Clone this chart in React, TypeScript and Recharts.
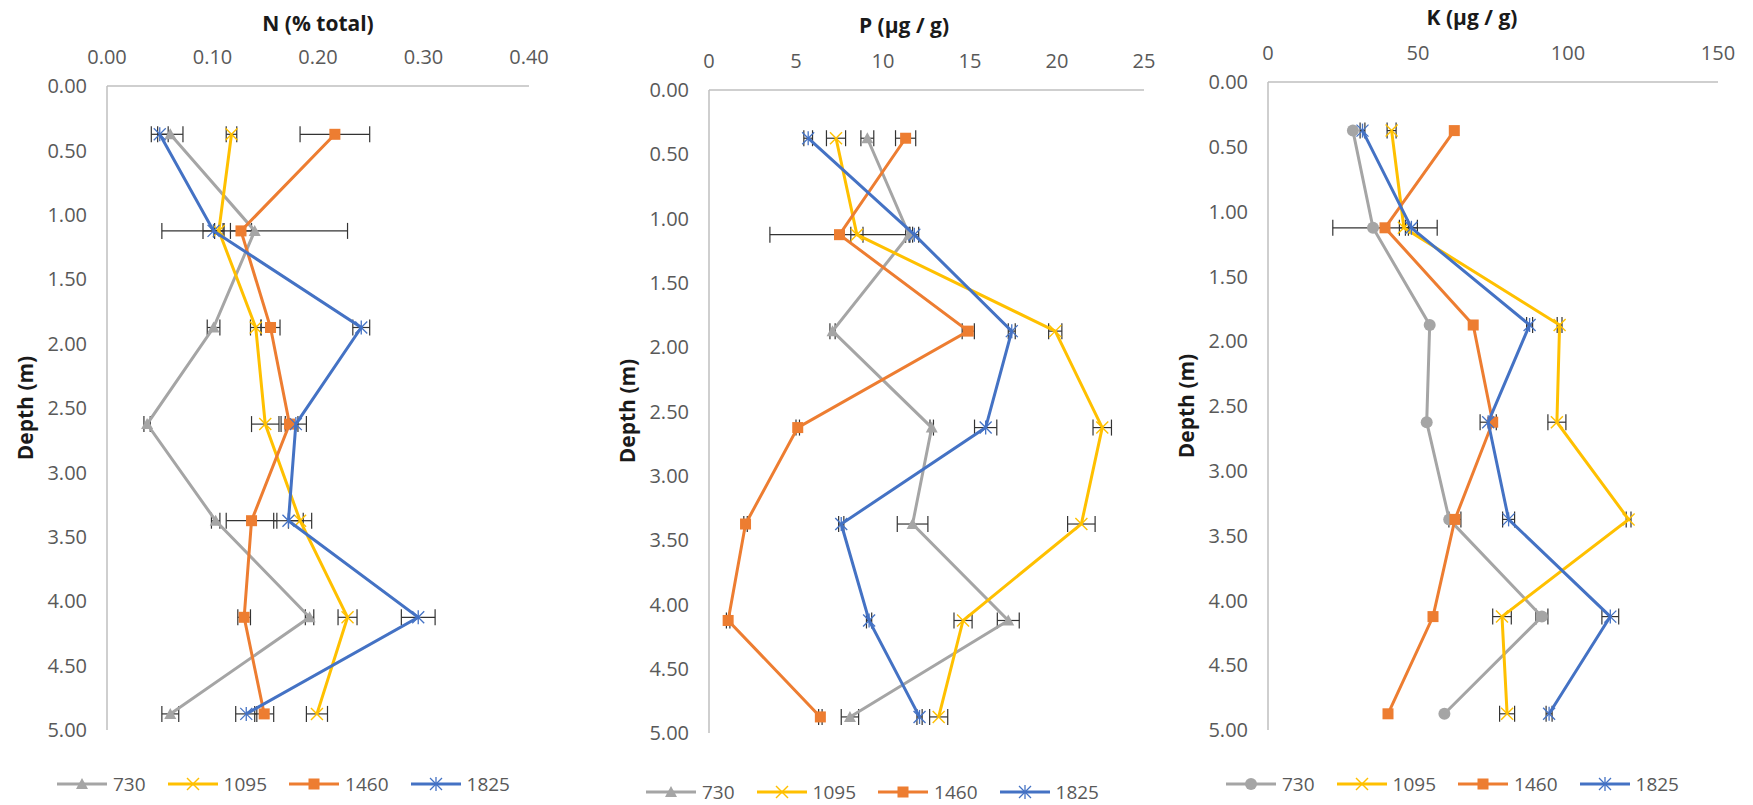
import React from 'react';
import { ScatterChart, Scatter, XAxis, YAxis, ErrorBar, Label } from 'recharts';

// ---------- data ----------
const depths = [0.375, 1.125, 1.875, 2.625, 3.375, 4.125, 4.875];
const depthTicks = [0, 0.5, 1, 1.5, 2, 2.5, 3, 3.5, 4, 4.5, 5];
const seriesNames = ['730', '1095', '1460', '1825'];
const seriesColors = ['#A5A5A5', '#FFC000', '#ED7D31', '#4472C4'];

const nTicks = [0, 0.1, 0.2, 0.3, 0.4];
const n730 = [0.060, 0.140, 0.101, 0.038, 0.103, 0.192, 0.060];
const n1095 = [0.118, 0.106, 0.141, 0.150, 0.183, 0.228, 0.199];
const n1460 = [0.216, 0.127, 0.155, 0.173, 0.137, 0.130, 0.149];
const n1825 = [0.050, 0.101, 0.241, 0.179, 0.172, 0.295, 0.132];
const nErr730 = [0.012, 0.088, 0.006, 0.003, 0.004, 0.004, 0.008];
const nErr1095 = [0.005, 0.004, 0.005, 0.013, 0.011, 0.009, 0.010];
const nErr1460 = [0.033, 0.010, 0.009, 0.008, 0.024, 0.006, 0.009];
const nErr1825 = [0.008, 0.010, 0.008, 0.010, 0.014, 0.016, 0.010];

const pTicks = [0, 5, 10, 15, 20, 25];
const p730 = [9.1, 11.5, 7.1, 12.8, 11.7, 17.2, 8.1];
const p1095 = [7.3, 8.5, 19.9, 22.6, 21.4, 14.6, 13.2];
const p1460 = [11.3, 7.5, 14.9, 5.1, 2.1, 1.1, 6.4];
const p1825 = [5.7, 11.8, 17.4, 15.9, 7.6, 9.2, 12.1];
const pErr730 = [0.37, 0.2, 0.15, 0.1, 0.88, 0.63, 0.5];
const pErr1095 = [0.55, 0.35, 0.38, 0.53, 0.79, 0.52, 0.52];
const pErr1460 = [0.58, 4.0, 0.35, 0.1, 0.1, 0.1, 0.1];
const pErr1825 = [0.25, 0.25, 0.2, 0.64, 0.15, 0.15, 0.15];

const kTicks = [0, 50, 100, 150];
const k730 = [28.3, 35.0, 53.9, 52.9, 60.4, 91.3, 58.8];
const k1095 = [41.2, 45.3, 97.2, 96.3, 120.2, 78.0, 79.7];
const k1460 = [62.1, 39.0, 68.4, 74.9, 62.3, 55.0, 40.0];
const k1825 = [31.5, 47.8, 87.2, 73.4, 80.2, 114.1, 93.7];
const kErr730 = [0, 0, 0, 0, 0, 2.0, 0];
const kErr1095 = [1.5, 1.5, 0.8, 3.0, 0.8, 3.1, 2.5];
const kErr1460 = [0, 17.4, 0, 0, 2.0, 0, 0];
const kErr1825 = [0.8, 2.0, 1.0, 2.7, 2.0, 2.8, 1.0];

const nTitle = 'N (% total)';
const pTitle = 'P (µg / g)';
const kTitle = 'K (µg / g)';
const depthTitle = 'Depth (m)';

// ---------- helpers ----------
type Kind = 'triangle' | 'circle' | 'square' | 'x' | 'asterisk';

const FONT = "'Open Sans', 'Liberation Sans', sans-serif";
const TICK_COLOR = '#595959';

function Marker({ kind, cx, cy, color }: { kind: Kind; cx: number; cy: number; color: string }) {
  if (cx == null || cy == null) return null;
  switch (kind) {
    case 'triangle':
      return <polygon points={`${cx},${cy - 6} ${cx - 6},${cy + 5} ${cx + 6},${cy + 5}`} fill={color} />;
    case 'circle':
      return <circle cx={cx} cy={cy} r={6} fill={color} />;
    case 'square':
      return <rect x={cx - 5.5} y={cy - 5.5} width={11} height={11} fill={color} />;
    case 'x':
      return (
        <g stroke={color} strokeWidth={1.4}>
          <line x1={cx - 6} y1={cy - 6} x2={cx + 6} y2={cy + 6} />
          <line x1={cx - 6} y1={cy + 6} x2={cx + 6} y2={cy - 6} />
        </g>
      );
    case 'asterisk':
      return (
        <g stroke={color} strokeWidth={1.3}>
          <line x1={cx - 6} y1={cy - 6} x2={cx + 6} y2={cy + 6} />
          <line x1={cx - 6} y1={cy + 6} x2={cx + 6} y2={cy - 6} />
          <line x1={cx} y1={cy - 7} x2={cx} y2={cy + 7} />
        </g>
      );
    default:
      return null;
  }
}

function buildRows(values: number[], errs: number[]) {
  return values.map((v, i) => ({ x: v, y: depths[i], ex: errs[i] }));
}

type PanelCfg = {
  key: string;
  left: number;
  width: number;
  height: number;
  margin: { top: number; right: number; bottom: number; left: number };
  ticks: number[];
  domain: [number, number];
  fmt: (v: number) => string;
  series: { values: number[]; errs: number[] }[];
  kinds: Kind[];
  title: string;
  titleX: number;
  titleY: number;
  depthX: number;
  depthY: number;
  legendLeft: number;
  legendY: number;
};

const panels: PanelCfg[] = [
  {
    key: 'N', left: 0, width: 570, height: 745,
    margin: { top: 56, right: 41, bottom: 15, left: 37 },
    ticks: nTicks, domain: [0, 0.4], fmt: (v) => v.toFixed(2),
    series: [
      { values: n730, errs: nErr730 }, { values: n1095, errs: nErr1095 },
      { values: n1460, errs: nErr1460 }, { values: n1825, errs: nErr1825 },
    ],
    kinds: ['triangle', 'x', 'square', 'asterisk'],
    title: nTitle, titleX: 318, titleY: 23, depthX: 25, depthY: 408,
    legendLeft: 57, legendY: 784,
  },
  {
    key: 'P', left: 580, width: 590, height: 748,
    margin: { top: 60, right: 26, bottom: 15, left: 59 },
    ticks: pTicks, domain: [0, 25], fmt: (v) => String(v),
    series: [
      { values: p730, errs: pErr730 }, { values: p1095, errs: pErr1095 },
      { values: p1460, errs: pErr1460 }, { values: p1825, errs: pErr1825 },
    ],
    kinds: ['triangle', 'x', 'square', 'asterisk'],
    title: pTitle, titleX: 324, titleY: 25, depthX: 47, depthY: 411,
    legendLeft: 646, legendY: 792,
  },
  {
    key: 'K', left: 1160, width: 593, height: 745,
    margin: { top: 52, right: 35, bottom: 15, left: 38 },
    ticks: kTicks, domain: [0, 150], fmt: (v) => String(v),
    series: [
      { values: k730, errs: kErr730 }, { values: k1095, errs: kErr1095 },
      { values: k1460, errs: kErr1460 }, { values: k1825, errs: kErr1825 },
    ],
    kinds: ['circle', 'x', 'square', 'asterisk'],
    title: kTitle, titleX: 312, titleY: 17, depthX: 26, depthY: 406,
    legendLeft: 1226, legendY: 784,
  },
];

function PanelLegend({ cfg }: { cfg: PanelCfg }) {
  return (
    <div
      style={{
        position: 'absolute', left: cfg.legendLeft, top: cfg.legendY - 10, height: 20,
        display: 'flex', alignItems: 'center', fontFamily: FONT, fontSize: 19, color: TICK_COLOR,
        whiteSpace: 'nowrap',
      }}
    >
      {seriesNames.map((name, i) => (
        <div key={name} style={{ display: 'flex', alignItems: 'center', marginRight: 22, height: 20 }}>
          <svg width={50} height={20} style={{ display: 'block' }}>
            <line x1={0} y1={10} x2={50} y2={10} stroke={seriesColors[i]} strokeWidth={3} />
            <Marker kind={cfg.kinds[i]} cx={25} cy={10} color={seriesColors[i]} />
          </svg>
          <span style={{ marginLeft: 6, lineHeight: '20px' }}>{name}</span>
        </div>
      ))}
    </div>
  );
}

function Panel({ cfg }: { cfg: PanelCfg }) {
  return (
    <div style={{ position: 'absolute', left: cfg.left, top: 0 }}>
      <ScatterChart width={cfg.width} height={cfg.height} margin={cfg.margin}>
        <XAxis
          type="number"
          dataKey="x"
          orientation="top"
          domain={cfg.domain}
          ticks={cfg.ticks}
          tickFormatter={cfg.fmt}
          height={30}
          tickLine={false}
          tickSize={0}
          tickMargin={22}
          axisLine={{ stroke: '#bfbfbf', strokeWidth: 1.5 }}
          tick={{ fill: TICK_COLOR, fontSize: 20, fontFamily: FONT }}
          allowDataOverflow
        >
          <Label
            content={() => (
              <text
                x={cfg.titleX}
                y={cfg.titleY}
                dy="0.36em"
                textAnchor="middle"
                fontFamily={FONT}
                fontSize={21}
                fontWeight="bold"
                fill="#1a1a1a"
              >
                {cfg.title}
              </text>
            )}
          />
        </XAxis>
        <YAxis
          type="number"
          dataKey="y"
          reversed
          domain={[0, 5]}
          ticks={depthTicks}
          tickFormatter={(v: number) => v.toFixed(2)}
          width={70}
          tickLine={false}
          tickSize={0}
          tickMargin={20}
          axisLine={{ stroke: '#bfbfbf', strokeWidth: 1.5 }}
          tick={{ fill: TICK_COLOR, fontSize: 20, fontFamily: FONT }}
          allowDataOverflow
        >
          <Label
            content={() => (
              <text
                x={cfg.depthX}
                y={cfg.depthY}
                dy="0.36em"
                textAnchor="middle"
                transform={`rotate(-90 ${cfg.depthX} ${cfg.depthY})`}
                fontFamily={FONT}
                fontSize={21}
                fontWeight="bold"
                fill="#1a1a1a"
              >
                {depthTitle}
              </text>
            )}
          />
        </YAxis>
        {cfg.series.map((s, i) => (
          <Scatter
            key={seriesNames[i]}
            name={seriesNames[i]}
            data={buildRows(s.values, s.errs)}
            fill={seriesColors[i]}
            line={{ stroke: seriesColors[i], strokeWidth: 3 }}
            lineType="joint"
            isAnimationActive={false}
            shape={(p: any) => <Marker kind={cfg.kinds[i]} cx={p.cx} cy={p.cy} color={seriesColors[i]} />}
          >
            <ErrorBar dataKey="ex" direction="x" width={8} stroke="#333333" strokeWidth={1.2} isAnimationActive={false} />
          </Scatter>
        ))}
      </ScatterChart>
    </div>
  );
}

export default function App() {
  return (
    <div
      style={{
        position: 'absolute', left: 0, top: 0, width: 1753, height: 805,
        background: '#ffffff', overflow: 'hidden', fontFamily: FONT,
      }}
    >
      {panels.map((cfg) => (
        <React.Fragment key={cfg.key}>
          <Panel cfg={cfg} />
          <PanelLegend cfg={cfg} />
        </React.Fragment>
      ))}
    </div>
  );
}
